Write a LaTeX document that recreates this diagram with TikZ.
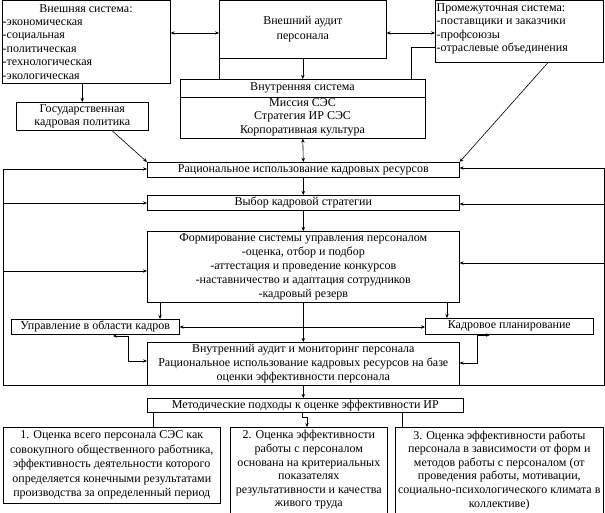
\documentclass[tikz,border=0pt]{standalone}
\usepackage{fontspec}
\setmainfont{Liberation Serif}
\usetikzlibrary{arrows.meta,calc}
\newcommand\fs{\fontsize{12}{13.6}\selectfont}
\tikzset{
 box/.style={draw, line width=0.6pt, inner sep=0pt, anchor=north west, align=center, font=\fs},
 txt/.style={inner sep=0pt, font=\fs, align=center},
 ln/.style={line width=0.6pt},
 tip/.style={-{Stealth[length=4pt,width=3.4pt]}},
 tips/.style={{Stealth[length=4pt,width=3.4pt]}-{Stealth[length=4pt,width=3.4pt]}},
}
\begin{document}
\begin{tikzpicture}[x=1pt,y=-1pt]
\fill[white] (0,0) rectangle (605,513);
\useasboundingbox (0,0) rectangle (605,513);
% top row
\node[box, minimum width=168pt, minimum height=83pt] (ext) at (2,0) {};
\node[txt] (extT) at (86,8.5) {Внешняя система:};
\node[txt, align=left, anchor=west, font=\fontsize{12}{13.5}\selectfont] (extL) at (2.5,49.5) {-экономическая\\-социальная\\-политическая\\-технологическая\\-экологическая};
\node[box, minimum width=167pt, minimum height=58pt, font=\fontsize{12}{15.5}\selectfont] (audit) at (219,0) {Внешний аудит\\персонала};
\node[box, minimum width=168pt, minimum height=62pt] (inter) at (435,0) {};
\node[txt, align=left, anchor=west, font=\fontsize{12}{13.4}\selectfont] (interL) at (436.5,29) {Промежуточная система:\\-поставщики и заказчики\\-профсоюзы\\-отраслевые объединения};
\node[box, minimum width=245pt, minimum height=59pt] (inner) at (180,79) {};
\draw[ln] (inner.west |- 0,97) -- (inner.east |- 0,97);
\node[txt] (innerH) at (302.5,88) {Внутренняя система};
\node[txt] (innerB) at (302.5,117) {Миссия СЭС\\Стратегия ИР СЭС\\Корпоративная культура};
\node[box, minimum width=132pt, minimum height=28pt] (gos) at (16,102) {Государственная\\кадровая политика};
% middle
\node[box, minimum width=312pt, minimum height=15pt] (rac) at (147,162) {Рациональное использование кадровых ресурсов};
\node[box, minimum width=312pt, minimum height=15pt] (vybor) at (147,195) {Выбор кадровой стратегии};
\node[box, minimum width=312pt, minimum height=71pt, font=\fontsize{12}{14.2}\selectfont] (form) at (147,231) {Формирование системы управления персоналом\\-оценка, отбор и подбор\\-аттестация и проведение конкурсов\\-наставничество и адаптация сотрудников\\-кадровый резерв};
\node[box, minimum width=168pt, minimum height=15pt] (upr) at (11,319) {Управление в области кадров};
\node[box, minimum width=168pt, minimum height=16pt] (kadr) at (425,318) {Кадровое планирование};
\node[box, minimum width=312pt, minimum height=43pt, font=\fontsize{12}{14}\selectfont] (audit2) at (147,342) {Внутренний аудит и мониторинг персонала\\Рациональное использование кадровых ресурсов на базе\\оценки эффективности персонала};
\node[box, minimum width=316pt, minimum height=14pt] (metod) at (147,398) {Методические подходы к оценке эффективности ИР};
% bottom
\node[box, minimum width=217pt, minimum height=76pt, font=\fontsize{12}{14.5}\selectfont] (b1) at (3,427) {1. Оценка всего персонала СЭС как\\совокупного общественного работника,\\эффективность деятельности которого\\определяется конечными результатами\\производства за определенный период};
\node[box, minimum width=157pt, minimum height=85.5pt, font=\fontsize{12}{13.6}\selectfont] (b2) at (230,427) {2. Оценка эффективности\\работы с персоналом\\основана на критериальных\\показателях\\результативности и качества\\живого труда};
\node[box, minimum width=208pt, minimum height=85.5pt, font=\fontsize{12}{13.6}\selectfont] (b3) at (395,427) {3. Оценка эффективности работы\\персонала в зависимости от форм и\\методов работы с персоналом (от\\проведения работы, мотивации,\\социально-психологического климата в\\коллективе)};
% connectors top
\draw[ln,tips] (ext.east |- 0,33) -- (audit.west |- 0,33);
\draw[ln,tips] (audit.east |- 0,33) -- (inter.west |- 0,33);
\draw[ln,tip] (audit.south) -- (inner.north);
\draw[ln] (audit.south west) -- (audit.south west |- inner.north);
\draw[ln] (inter.west |- 0,47) -| (inner.north -| 411,0);
\draw[ln,tip] (gos.north |- ext.south) -- (gos.north);
\draw[ln,tip] (gos.south -| 112,0) -- (rac.north west);
\draw[ln,tip] (inter.south -| 548,0) -- (rac.north east);
\draw[ln,tips] (inner.south) -- (rac.north);
\draw[ln,tip] (rac.south) -- (vybor.north);
\draw[ln,tip] (vybor.south) -- (form.north);
\draw[ln,tip] (form.south) -- (audit2.north);
\draw[ln,tip] (audit2.south) -- (metod.north -| audit2.south);
% loop
\coordinate (LT) at (3,169);
\coordinate (LB) at (3,385);
\coordinate (RB) at (604,385);
\coordinate (RT) at (604,168);
\draw[ln] (LT) -- (LB) -- (RB) -- (RT);
\draw[ln,tip] (LT) -- (rac.west |- LT);
\draw[ln,tip] (LT |- 0,203) -- (vybor.west |- 0,203);
\draw[ln,tip] (LT |- 0,271) -- (form.west |- 0,271);
\draw[ln,tip] (RT) -- (rac.east |- RT);
\draw[ln,tip] (RT |- 0,204) -- (vybor.east |- 0,204);
\draw[ln,tip] (RT |- 0,263) -- (form.east |- 0,263);
% lower connectors
\draw[ln,tip] (form.south -| 160,0) -- (upr.north -| 160,0);
\draw[ln,tip] (form.south -| 447,0) -- (kadr.north -| 447,0);
\draw[ln,tips] (upr.east |- 0,327) -- (kadr.west |- 0,327);
\coordinate (ua) at (113,336);
\draw[ln,tips] (ua) -| (128,361) -- (audit2.west |- 0,361);
\coordinate (ka) at (490,335);
\draw[ln,tips] (ka) -| (477,363) -- (audit2.east |- 0,363);
\draw[ln] (metod.south -| 153,0) -- (b1.north -| 153,0);
\draw[ln,tip] (metod.south -| 302,0) -- (302,417) -- (307,417) -- (b2.north -| 307,0);
\draw[ln] (metod.south -| 402,0) -- (b3.north -| 402,0);
\end{tikzpicture}
\end{document}
